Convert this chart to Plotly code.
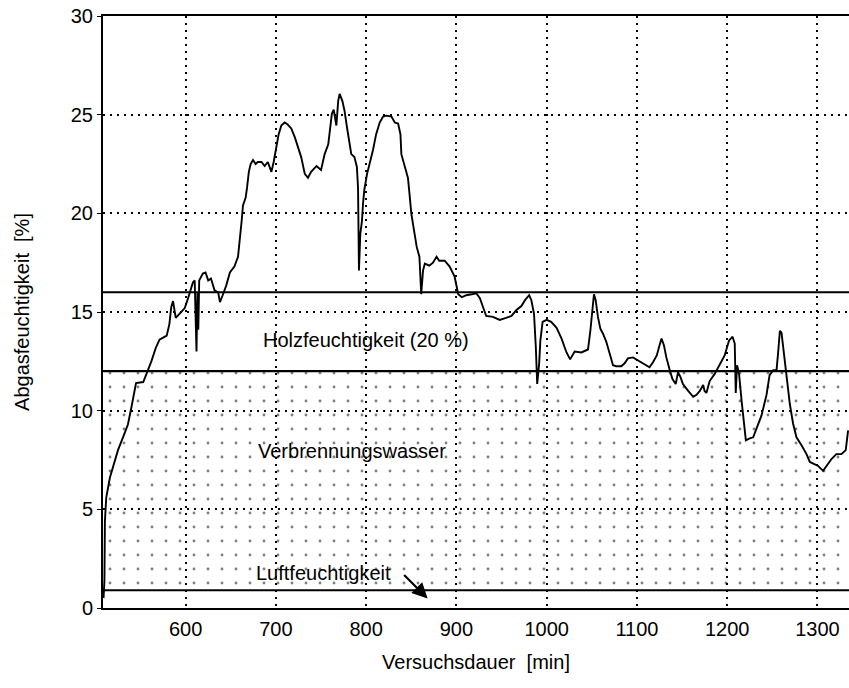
import plotly.graph_objects as go

# ---- data ----
time_min = [509, 510, 510.5, 512, 516, 522, 525, 531, 536, 540, 543, 545, 553, 556, 562, 567, 571, 579, 582, 584,
            586, 589, 593, 599, 603, 606, 608, 610, 611, 612, 613, 614, 615, 619, 622, 625, 628, 632, 636, 638,
            641, 645, 649, 654, 658, 660, 662, 663.5, 666.5, 668, 670, 672, 674.6, 677.5, 680, 684, 687.5, 691, 695, 697.5,
            700.5, 703, 706, 709.7, 713, 717, 721, 724.5, 728, 732, 735.5, 739, 745, 750, 754, 758, 760, 762, 764, 767,
            769, 770.6, 773.6, 776, 778.6, 781.6, 783.5, 787, 789.7, 791, 791.6, 792, 793.5, 795.3, 796.5, 798, 801, 804, 807.5, 811,
            815, 818.7, 822.5, 828, 831.7, 835.4, 838, 839, 842.7, 846.3, 848, 850, 853.7, 856, 859, 861, 863, 865,
            870, 874, 878, 881, 887, 892.5, 898, 900, 902, 906, 911, 917, 922, 926, 929.5, 933, 940.5, 948, 955, 961,
            966.5, 972, 976, 980.6, 983, 986, 988, 989.5, 991.7, 993, 995.5, 1000, 1005, 1011, 1016.5, 1022, 1026, 1031, 1038.4, 1045.8,
            1048.4, 1050.6, 1052.4, 1054.3, 1056.8, 1059.5, 1062.4, 1066, 1070, 1073.5, 1077, 1082.7, 1086.4, 1090, 1095.6, 1099.3, 1104.8, 1110.4, 1114, 1117.8,
            1122, 1125, 1127.3, 1130, 1132.6, 1136.4, 1139.4, 1143, 1145.6, 1148.3, 1151, 1156.8, 1162.4, 1166, 1169.7, 1173.4, 1175, 1177, 1180.6, 1186,
            1191.7, 1197.2, 1202, 1206, 1208.4, 1209.5, 1211, 1213.2, 1216, 1218.5, 1220.7, 1225, 1228.8, 1233, 1238, 1243.6, 1247, 1251, 1254.7, 1256.5,
            1258.4, 1260.2, 1262.8, 1265.8, 1269.4, 1273, 1276.8, 1282.4, 1287.9, 1291.6, 1297.1, 1300.8, 1306.3, 1310, 1315.6, 1321, 1326.6, 1331.4, 1334]
humidity = [0.5, 1.4, 4.4, 5.6, 6.6, 7.5, 8.0, 8.7, 9.3, 10.2, 11.0, 11.4, 11.45, 11.8, 12.5, 13.2, 13.6, 13.8, 14.4, 15.25,
            15.55, 14.7, 14.9, 15.2, 15.75, 16.2, 16.5, 16.6, 14.5, 13.0, 16.0, 14.1, 16.6, 16.95, 17.0, 16.6, 16.7, 16.1, 16.0, 15.5,
            15.85, 16.35, 17.0, 17.3, 17.8, 18.6, 19.6, 20.4, 20.8, 21.3, 22.1, 22.5, 22.7, 22.5, 22.6, 22.6, 22.4, 22.6, 22.1, 22.6,
            23.35, 24.0, 24.45, 24.6, 24.5, 24.3, 23.85, 23.35, 22.85, 22.0, 21.8, 22.1, 22.4, 22.2, 23.0, 23.5, 24.2, 25.05, 25.25, 24.45,
            25.7, 26.05, 25.7, 25.2, 24.4, 23.5, 23.0, 22.85, 22.35, 21.3, 19.3, 17.1, 18.95, 19.6, 20.5, 21.2, 22.0, 22.5, 23.2, 24.0,
            24.6, 24.9, 24.95, 24.9, 24.6, 24.55, 24.0, 23.0, 22.35, 21.8, 21.0, 20.0, 18.95, 18.3, 17.8, 15.9, 17.1, 17.45,
            17.35, 17.5, 17.8, 17.6, 17.6, 17.3, 16.8, 16.25, 15.9, 15.75, 15.85, 15.9, 15.95, 15.7, 15.25, 14.8, 14.75, 14.6, 14.7, 14.8,
            15.1, 15.3, 15.6, 15.85, 15.6, 14.9, 13.2, 11.35, 12.4, 13.55, 14.5, 14.6, 14.5, 14.2, 13.65, 12.95, 12.6, 13.0, 12.95, 13.1,
            14.05, 15.25, 15.9, 15.6, 14.75, 14.15, 13.9, 13.5, 12.9, 12.3, 12.25, 12.25, 12.4, 12.65, 12.7, 12.6, 12.45, 12.3, 12.2, 12.45,
            12.8, 13.3, 13.65, 13.3, 12.7, 12.05, 11.6, 11.35, 11.95, 11.7, 11.35, 11.0, 10.7, 10.8, 11.0, 11.3, 11.0, 10.9, 11.5, 11.85,
            12.3, 12.8, 13.55, 13.75, 13.4, 10.9, 12.3, 11.85, 10.5, 9.5, 8.5, 8.6, 8.65, 9.15, 9.75, 10.8, 11.8, 12.05, 12.05, 12.95,
            14.05, 13.95, 12.95, 11.7, 10.35, 9.35, 8.65, 8.25, 7.8, 7.4, 7.3, 7.2, 6.95, 7.2, 7.55, 7.8, 7.8, 8.0, 9.0]

x_range = [508.4, 1335]
y_range = [0, 30]
x_ticks = [600, 700, 800, 900, 1000, 1100, 1200, 1300]
y_ticks = [0, 5, 10, 15, 20, 25, 30]

air_level = 0.9        # Luftfeuchtigkeit
combustion_level = 12  # Verbrennungswasser upper limit
wood_level = 16        # Holzfeuchtigkeit upper limit

labels = ["Holzfeuchtigkeit (20 %)", "Verbrennungswasser", "Luftfeuchtigkeit"]
label_x = [800, 784, 753]
label_y = [13.56, 7.98, 1.75]
arrow_tail = [840.4, 1.75]
arrow_tip = [868.1, 0.48]

FONT = "Liberation Sans, Arial, sans-serif"

fig = go.Figure()

# dotted area (Verbrennungswasser)
fig.add_trace(go.Scatter(x=x_range, y=[air_level, air_level], mode="lines",
                         line=dict(color="black", width=2.2), showlegend=False, hoverinfo="skip"))
fig.add_trace(go.Scatter(x=x_range, y=[combustion_level, combustion_level], mode="lines",
                         line=dict(color="black", width=2.2), fill="tonexty",
                         fillcolor="rgba(0,0,0,0)",
                         fillpattern=dict(shape=".", size=14, solidity=0.032, fgcolor="black",
                                          bgcolor="rgba(0,0,0,0)"),
                         showlegend=False, hoverinfo="skip"))
fig.add_trace(go.Scatter(x=x_range, y=[wood_level, wood_level], mode="lines",
                         line=dict(color="black", width=2.2), showlegend=False, hoverinfo="skip"))

# measured curve
fig.add_trace(go.Scatter(x=time_min, y=humidity, mode="lines",
                         line=dict(color="black", width=1.9), showlegend=False))

for t, lx, ly in zip(labels, label_x, label_y):
    fig.add_annotation(x=lx, y=ly, text=t, showarrow=False,
                       font=dict(family=FONT, size=20, color="black"))

fig.add_annotation(x=arrow_tip[0], y=arrow_tip[1], ax=arrow_tail[0], ay=arrow_tail[1],
                   axref="x", ayref="y", xref="x", yref="y", text="", showarrow=True,
                   arrowhead=2, arrowsize=1.4, arrowwidth=2.2, arrowcolor="black")

grid_dash = "2px,5px"
fig.update_xaxes(range=x_range, tickvals=x_ticks, showgrid=True, gridcolor="black",
                 gridwidth=1.5, griddash=grid_dash, zeroline=False,
                 showline=True, linecolor="black", linewidth=2, mirror=True,
                 ticks="", ticklabelstandoff=2,
                 tickfont=dict(family=FONT, size=20, color="black"),
                 title=dict(text="Versuchsdauer  [min]", standoff=16,
                            font=dict(family=FONT, size=20, color="black")))
fig.update_yaxes(range=y_range, tickvals=y_ticks, showgrid=True, gridcolor="black",
                 gridwidth=1.5, griddash=grid_dash, zeroline=False,
                 showline=True, linecolor="black", linewidth=2, mirror=False,
                 ticks="outside", ticklen=4, tickcolor="black",
                 tickfont=dict(family=FONT, size=20, color="black"),
                 title=dict(text="Abgasfeuchtigkeit  [%]", standoff=36,
                            font=dict(family=FONT, size=20, color="black")))

fig.update_layout(width=849, height=688, plot_bgcolor="white", paper_bgcolor="white",
                  margin=dict(l=103, r=0, t=16, b=80), showlegend=False)

fig.write_html("out.html")
